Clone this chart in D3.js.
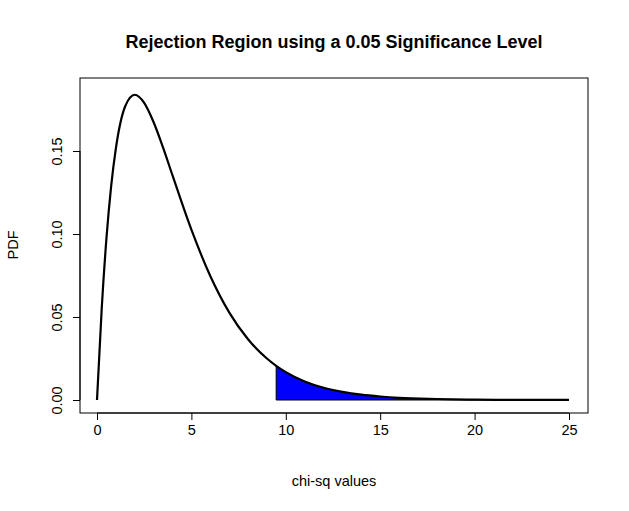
<!DOCTYPE html>
<html><head><meta charset="utf-8">
<script src="https://cdn.jsdelivr.net/npm/d3@7"></script>
<style>body{margin:0;background:#fff}text{font-family:"Liberation Sans",Arial,sans-serif}</style>
</head><body>
<svg id="chart" width="629" height="511"></svg>
<script>
// points
var xs = [0,0.25,0.5,0.75,1,1.5,2,2.5,3,3.5,4,5,6,7,8,9,9.49,10,11,12,13,14,15,16,18,20,22,25];
var ys = [0,0.0551,0.0974,0.1289,0.1516,0.1771,0.1839,0.1790,0.1673,0.1520,0.1353,0.1026,0.0747,0.0528,0.0366,0.0250,0.0206,0.0168,0.0112,0.0074,0.0049,0.0032,0.0021,0.0013,0.0006,0.00023,0.00009,0.00002];
var cutoff = 9.49;
var xTicks = [0,5,10,15,20,25];
var yTicks = [0,0.05,0.10,0.15];
var yLabels = ["0.00","0.05","0.10","0.15"];

var svg = d3.select("#chart");
var x = d3.scaleLinear().domain([0,25]).range([97,569]);
var y = d3.scaleLinear().domain([0,0.15]).range([400,151]);
var pts = xs.map(function(d,i){ return [d, ys[i]]; });
var tail = pts.filter(function(p){ return p[0] >= cutoff; });

svg.append("path")
  .datum(tail)
  .attr("fill","#0000ff")
  .attr("d", d3.area().x(function(p){return x(p[0]);}).y0(y(0)).y1(function(p){return y(p[1]);}).curve(d3.curveMonotoneX));
svg.append("line").attr("x1",x(cutoff)).attr("x2",x(cutoff)).attr("y1",y(0)).attr("y2",y(tail[0][1])).attr("stroke","#000");
svg.append("line").attr("x1",x(cutoff)).attr("x2",x(25)).attr("y1",y(0)).attr("y2",y(0)).attr("stroke","#000");

svg.append("path")
  .datum(pts)
  .attr("fill","none").attr("stroke","#000").attr("stroke-width",2.2)
  .attr("d", d3.line().x(function(p){return x(p[0]);}).y(function(p){return y(p[1]);}).curve(d3.curveMonotoneX));

svg.append("rect").attr("x",80).attr("y",78).attr("width",508).attr("height",335)
  .attr("fill","none").attr("stroke","#000");

var xa = svg.append("g").attr("transform","translate(0,413)")
  .call(d3.axisBottom(x).tickValues(xTicks).tickSize(7).tickPadding(5).tickFormat(d3.format("d")));
xa.select(".domain").attr("d","M"+x(0)+",0H"+x(25));
xa.selectAll("text").attr("font-size",14.5).attr("fill","#000");

var ya = svg.append("g").attr("transform","translate(80,0)")
  .call(d3.axisLeft(y).tickValues(yTicks).tickSize(7).tickFormat(function(d,i){return yLabels[i];}));
ya.select(".domain").attr("d","M0,"+y(0)+"V"+y(0.15));
ya.selectAll("text").attr("font-size",14.5).attr("fill","#000")
  .attr("text-anchor","middle").attr("x",0).attr("dy",0)
  .attr("transform","translate(-18,0) rotate(-90)");

svg.append("text").attr("x",334).attr("y",48).attr("text-anchor","middle")
  .attr("font-size",18).attr("font-weight","bold").text("Rejection Region using a 0.05 Significance Level");
svg.append("text").attr("x",334).attr("y",486).attr("text-anchor","middle")
  .attr("font-size",14.5).text("chi-sq values");
svg.append("text").attr("transform","translate(18,245) rotate(-90)").attr("text-anchor","middle")
  .attr("font-size",14.5).text("PDF");
</script>
</body></html>
